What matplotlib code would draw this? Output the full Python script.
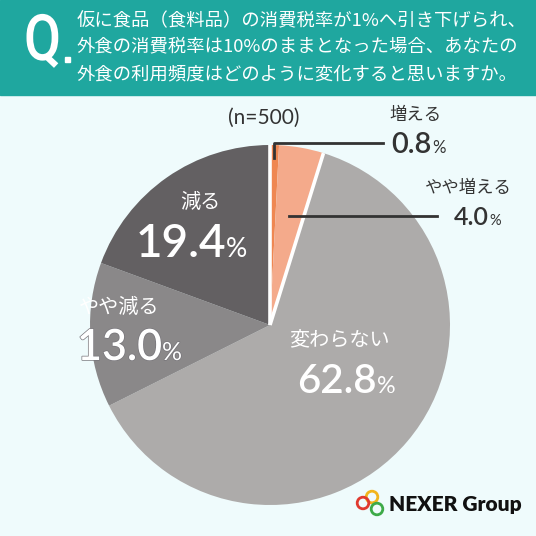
"""Pie chart: dining-out frequency if food tax drops to 1%."""

import numpy as np
import matplotlib
import matplotlib.pyplot as plt
from matplotlib.patches import Rectangle, Circle, PathPatch
from matplotlib.textpath import TextPath
from matplotlib.font_manager import FontProperties
from matplotlib.transforms import Affine2D
import matplotlib.patheffects as pe

matplotlib.use("Agg")

W = H = 536
JP = ["Noto Sans CJK JP", "DejaVu Sans"]
NUM = ["Lato", "DejaVu Sans"]
plt.rcParams["font.family"] = JP

QUESTION = [
    "仮に食品（食料品）の消費税率が1%へ引き下げられ、",
    "外食の消費税率は10%のままとなった場合、あなたの",
    "外食の利用頻度はどのように変化すると思いますか。",
]
CATEGORIES = ["増える", "やや増える", "変わらない", "やや減る", "減る"]
VALUES = [0.8, 4.0, 62.8, 13.0, 19.4]
COLORS = ["#ef8752", "#f4aa8b", "#adabaa", "#8a8889", "#636062"]
N_LABEL = "(n=500)"

BG = "#effbfc"
TEAL = "#1fa79f"
INK = "#333333"


def py(y):
    """Convert a pixel row (top origin) into axis y."""
    return H - y


fig = plt.figure(figsize=(W / 100, H / 100), dpi=100, facecolor=BG)
ax = fig.add_axes([0, 0, 1, 1])
ax.set_facecolor(BG)

# header band
ax.add_patch(Rectangle((0, py(95)), W, 95, color=TEAL, zorder=1))
qpath = TextPath((0, 0), "Q", size=64, prop=FontProperties(family="Roboto", weight="medium"))
qpath = qpath.transformed(Affine2D().scale(0.84, 1.0).translate(24, py(60)))
ax.add_patch(PathPatch(qpath, color="white", lw=0, zorder=2))
ax.add_patch(Rectangle((65, py(62)), 5, 5, color="white", zorder=2))
for i, line in enumerate(QUESTION):
    ax.text(77, py(21 + 26.5 * i), line, color="white", fontsize=13.2,
            ha="left", va="center", zorder=3)

# pie
cx, cy, R = 270, py(325), 180
wedges, _ = ax.pie(VALUES, colors=COLORS, startangle=90, counterclock=False,
                   center=(cx, cy), radius=R, wedgeprops={"linewidth": 0})
for w in wedges:
    w.set_zorder(2)

# white separators around the "increase" slices
cum = np.cumsum([0] + VALUES)
for frac in (cum[0], cum[2]):
    ang = np.deg2rad(90 - frac * 3.6)
    ax.plot([cx, cx + R * np.cos(ang)], [cy, cy + R * np.sin(ang)],
            color="white", lw=2.6, solid_capstyle="butt", zorder=3)


def mid_point(i, r):
    ang = np.deg2rad(90 - (cum[i] + VALUES[i] / 2) * 3.6)
    return cx + r * np.cos(ang), cy + r * np.sin(ang)


# leader lines for the small slices
x0, y0 = mid_point(0, 0.93 * R)
ax.plot([x0, x0, 383], [y0, py(143), py(143)], color=INK, lw=2, zorder=4)
x1, y1 = mid_point(1, 0.6 * R)
ax.plot([x1, 437], [py(216), py(216)], color=INK, lw=2, zorder=4)

# labels: (name pos, name size, split x, baseline y, number size, color)
LABELS = [
    ((416, 115), 12.5, 432, 153, 21, INK),
    ((468, 188), 12.5, 489, 225, 18, INK),
    ((339, 340), 14.5, 377, 393, 29, "white"),
    ((119, 307), 14.5, 162, 360, 31, "white"),
    ((200, 202), 14.5, 226, 257, 33, "white"),
]
for (name_xy, nsize, sx, by, size, col), cat, val in zip(LABELS, CATEGORIES, VALUES):
    ax.text(name_xy[0], py(name_xy[1]), cat, color=col, fontsize=nsize,
            ha="center", va="center", zorder=5)
    num = ax.text(sx, py(by), f"{val:.1f}", color=col, fontsize=size,
                  family=NUM, fontweight="semibold", ha="right",
                  va="baseline", zorder=5)
    pct = ax.text(sx, py(by), "%", color=col, fontsize=size * 0.58,
                  family=NUM, ha="left", va="baseline", zorder=5)
    if cat == "やや減る":
        for t in (num, pct):
            t.set_path_effects([pe.withStroke(linewidth=1.0, foreground="#77757a")])

ax.text(264, py(118), N_LABEL, color=INK, fontsize=15, family=NUM,
        ha="center", va="center", zorder=5)

# logo
for (lx, ly), c in zip([(372, 497), (363, 503), (377, 509)],
                       ["#f2b51c", "#e03a2f", "#3daa48"]):
    ax.add_patch(Circle((lx, py(ly)), 5.8, facecolor="none", edgecolor=c,
                        lw=2.0, zorder=5))
ax.text(389, py(504), "NEXER Group", color="#111111", fontsize=15,
        fontweight="heavy", family=["Lato", "DejaVu Sans"], ha="left",
        va="center", zorder=5)

ax.set_xlim(0, W)
ax.set_ylim(0, H)
ax.set_aspect("equal")
ax.axis("off")
fig.savefig("out.png", dpi=100, facecolor=BG)
